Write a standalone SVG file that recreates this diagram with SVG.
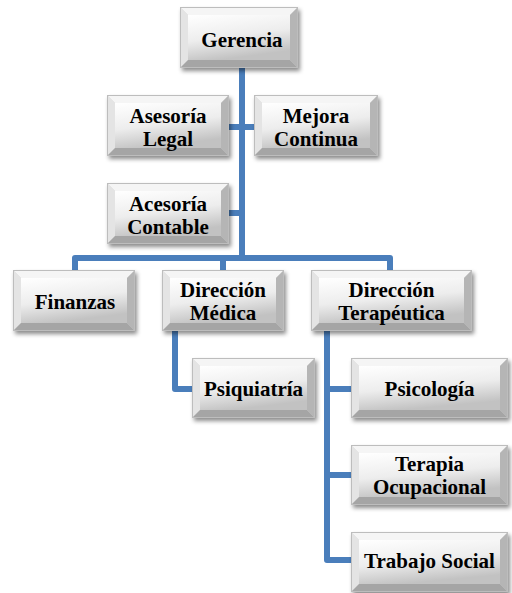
<svg xmlns="http://www.w3.org/2000/svg" width="512" height="593" viewBox="0 0 512 593">
<defs>
<linearGradient id="face" x1="0" y1="0" x2="0.3" y2="1">
<stop offset="0" stop-color="#ffffff"/>
<stop offset="0.55" stop-color="#ededed"/>
<stop offset="1" stop-color="#c2c2c2"/>
</linearGradient>
<filter id="sh" x="-10%" y="-10%" width="125%" height="135%">
<feDropShadow dx="2" dy="3" stdDeviation="2" flood-color="#000" flood-opacity="0.45"/>
</filter>
</defs>
<style>
.sh{fill:#d8d8d8;filter:url(#sh)}
.t{fill:#f5f5f5}
.l{fill:#e4e4e4}
.r{fill:#b5b5b5}
.b{fill:#a5a5a5}
.f{fill:url(#face)}
.o{fill:none;stroke:#bdbdbd;stroke-width:1}
.tx{font-family:"Liberation Serif","Times New Roman",serif;font-weight:bold;font-size:21px;fill:#000;text-anchor:middle}
.c{fill:none;stroke:#4a7ebb;stroke-width:6;stroke-linejoin:round}
</style>
<g id="connectors">
<path class="c" d="M242,68 V258"/>
<path class="c" d="M229,127 H254"/>
<path class="c" d="M229,213 H242"/>
<path class="c" d="M75,270 V258 H390 V270"/>
<path class="c" d="M223,258 V270"/>
<path class="c" d="M175,331 V389 H192"/>
<path class="c" d="M327,331 V560 H351"/>
<path class="c" d="M327,389 H351"/>
<path class="c" d="M327,475 H351"/>
</g>
<g id="gerencia" transform="translate(180,7)">
<rect class="sh" width="118" height="61"/>
<polygon class="t" points="0,0 118,0 110,8 8,8"/><polygon class="l" points="0,0 8,8 8,53 0,61"/><polygon class="r" points="118,0 118,61 110,53 110,8"/><polygon class="b" points="0,61 118,61 110,53 8,53"/>
<rect class="f" x="8" y="8" width="102" height="45"/><rect class="o" x="0.5" y="0.5" width="117" height="60"/>
<text class="tx" x="62" y="40">Gerencia</text>
</g>
<g id="asesoria-legal" transform="translate(107,95)">
<rect class="sh" width="122" height="61"/>
<polygon class="t" points="0,0 122,0 114,8 8,8"/><polygon class="l" points="0,0 8,8 8,53 0,61"/><polygon class="r" points="122,0 122,61 114,53 114,8"/><polygon class="b" points="0,61 122,61 114,53 8,53"/>
<rect class="f" x="8" y="8" width="106" height="45"/><rect class="o" x="0.5" y="0.5" width="121" height="60"/>
<text class="tx" x="61" y="27.5">Asesoría</text><text class="tx" x="61" y="50.5">Legal</text>
</g>
<g id="mejora-continua" transform="translate(254,95)">
<rect class="sh" width="124" height="61"/>
<polygon class="t" points="0,0 124,0 116,8 8,8"/><polygon class="l" points="0,0 8,8 8,53 0,61"/><polygon class="r" points="124,0 124,61 116,53 116,8"/><polygon class="b" points="0,61 124,61 116,53 8,53"/>
<rect class="f" x="8" y="8" width="108" height="45"/><rect class="o" x="0.5" y="0.5" width="123" height="60"/>
<text class="tx" x="62" y="27.5">Mejora</text><text class="tx" x="62" y="50.5">Continua</text>
</g>
<g id="acesoria-contable" transform="translate(107,183)">
<rect class="sh" width="122" height="61"/>
<polygon class="t" points="0,0 122,0 114,8 8,8"/><polygon class="l" points="0,0 8,8 8,53 0,61"/><polygon class="r" points="122,0 122,61 114,53 114,8"/><polygon class="b" points="0,61 122,61 114,53 8,53"/>
<rect class="f" x="8" y="8" width="106" height="45"/><rect class="o" x="0.5" y="0.5" width="121" height="60"/>
<text class="tx" x="61" y="27.5">Acesoría</text><text class="tx" x="61" y="50.5">Contable</text>
</g>
<g id="finanzas" transform="translate(13,270)">
<rect class="sh" width="122" height="61"/>
<polygon class="t" points="0,0 122,0 114,8 8,8"/><polygon class="l" points="0,0 8,8 8,53 0,61"/><polygon class="r" points="122,0 122,61 114,53 114,8"/><polygon class="b" points="0,61 122,61 114,53 8,53"/>
<rect class="f" x="8" y="8" width="106" height="45"/><rect class="o" x="0.5" y="0.5" width="121" height="60"/>
<text class="tx" x="62" y="39">Finanzas</text>
</g>
<g id="direccion-medica" transform="translate(162,270)">
<rect class="sh" width="122" height="61"/>
<polygon class="t" points="0,0 122,0 114,8 8,8"/><polygon class="l" points="0,0 8,8 8,53 0,61"/><polygon class="r" points="122,0 122,61 114,53 114,8"/><polygon class="b" points="0,61 122,61 114,53 8,53"/>
<rect class="f" x="8" y="8" width="106" height="45"/><rect class="o" x="0.5" y="0.5" width="121" height="60"/>
<text class="tx" x="61" y="26.5">Dirección</text><text class="tx" x="61" y="49.5">Médica</text>
</g>
<g id="direccion-terapeutica" transform="translate(311,270)">
<rect class="sh" width="161" height="61"/>
<polygon class="t" points="0,0 161,0 153,8 8,8"/><polygon class="l" points="0,0 8,8 8,53 0,61"/><polygon class="r" points="161,0 161,61 153,53 153,8"/><polygon class="b" points="0,61 161,61 153,53 8,53"/>
<rect class="f" x="8" y="8" width="145" height="45"/><rect class="o" x="0.5" y="0.5" width="160" height="60"/>
<text class="tx" x="80.5" y="26.5">Dirección</text><text class="tx" x="80.5" y="49.5">Terapéutica</text>
</g>
<g id="psiquiatria" transform="translate(192,358)">
<rect class="sh" width="123" height="60"/>
<polygon class="t" points="0,0 123,0 115,8 8,8"/><polygon class="l" points="0,0 8,8 8,52 0,60"/><polygon class="r" points="123,0 123,60 115,52 115,8"/><polygon class="b" points="0,60 123,60 115,52 8,52"/>
<rect class="f" x="8" y="8" width="107" height="44"/><rect class="o" x="0.5" y="0.5" width="122" height="59"/>
<text class="tx" x="61.5" y="38">Psiquiatría</text>
</g>
<g id="psicologia" transform="translate(351,358)">
<rect class="sh" width="157" height="60"/>
<polygon class="t" points="0,0 157,0 149,8 8,8"/><polygon class="l" points="0,0 8,8 8,52 0,60"/><polygon class="r" points="157,0 157,60 149,52 149,8"/><polygon class="b" points="0,60 157,60 149,52 8,52"/>
<rect class="f" x="8" y="8" width="141" height="44"/><rect class="o" x="0.5" y="0.5" width="156" height="59"/>
<text class="tx" x="78.5" y="38">Psicología</text>
</g>
<g id="terapia-ocupacional" transform="translate(351,445)">
<rect class="sh" width="157" height="60"/>
<polygon class="t" points="0,0 157,0 149,8 8,8"/><polygon class="l" points="0,0 8,8 8,52 0,60"/><polygon class="r" points="157,0 157,60 149,52 149,8"/><polygon class="b" points="0,60 157,60 149,52 8,52"/>
<rect class="f" x="8" y="8" width="141" height="44"/><rect class="o" x="0.5" y="0.5" width="156" height="59"/>
<text class="tx" x="78.5" y="26">Terapia</text><text class="tx" x="78.5" y="49">Ocupacional</text>
</g>
<g id="trabajo-social" transform="translate(351,532)">
<rect class="sh" width="157" height="60"/>
<polygon class="t" points="0,0 157,0 149,8 8,8"/><polygon class="l" points="0,0 8,8 8,52 0,60"/><polygon class="r" points="157,0 157,60 149,52 149,8"/><polygon class="b" points="0,60 157,60 149,52 8,52"/>
<rect class="f" x="8" y="8" width="141" height="44"/><rect class="o" x="0.5" y="0.5" width="156" height="59"/>
<text class="tx" x="78.5" y="36">Trabajo Social</text>
</g>
</svg>
